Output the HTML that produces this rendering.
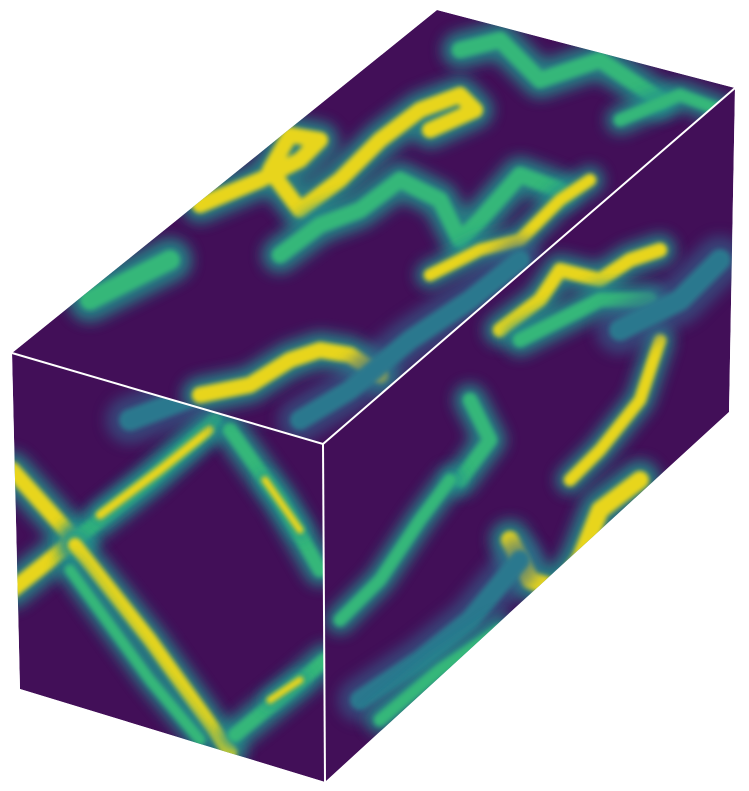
<!DOCTYPE html>
<html><head><meta charset="utf-8"><style>
html,body{margin:0;padding:0;background:#fff;width:749px;height:791px;overflow:hidden}
svg{display:block}
</style></head><body>
<svg id="chart" width="749" height="791" viewBox="0 0 749 791" xmlns="http://www.w3.org/2000/svg">
<defs>
<filter id="b1" filterUnits="userSpaceOnUse" x="0" y="0" width="749" height="791"><feGaussianBlur stdDeviation="7"/></filter>
<filter id="b2" filterUnits="userSpaceOnUse" x="0" y="0" width="749" height="791"><feGaussianBlur stdDeviation="2.5"/></filter>
<clipPath id="cf"><polygon points="12,353 323,444 325,782 20,689"/></clipPath>
<clipPath id="ct"><polygon points="12,353 437,10 735,88 323,444"/></clipPath>
<clipPath id="cr"><polygon points="323,444 735,88 729,412 325,782"/></clipPath>
</defs>
<g id="faces"></g>
<g stroke="#fff" stroke-width="2" fill="none">
<polyline points="12,353 323,444 735,88"/>
<line x1="323" y1="444" x2="325" y2="782"/>
</g>
</svg>
<script>
const facePolys = {
  front: "12,353 323,444 325,782 20,689",
  top: "12,353 437,10 735,88 323,444",
  right: "323,444 735,88 729,412 325,782"
};
const frontStreaks = [
  [2,18,[[12,470],[75,540],[12,590]]],
  [1,16,[[75,540],[150,480],[215,420]]],
  [2,10,[[100,515],[160,470],[210,430]]],
  [2,16,[[75,545],[150,640],[230,752]]],
  [1,12,[[70,570],[150,680],[200,740]]],
  [1,16,[[230,430],[280,500],[320,570]]],
  [2,8,[[265,480],[300,530]]],
  [1,16,[[235,735],[290,690],[325,660]]],
  [2,8,[[270,700],[300,680]]],
  [0,24,[[130,420],[210,390],[300,400]]]
];
const topStreaks = [
  [2,18,[[200,205],[260,180],[300,160],[320,140],[290,135],[270,170],[300,210],[340,180],[380,140],[420,110],[460,95],[475,110],[430,130]]],
  [1,18,[[280,255],[320,225],[360,210],[400,180],[440,200],[460,240],[480,220],[520,175],[560,190]]],
  [2,14,[[430,275],[480,250],[520,240],[560,200],[590,180]]],
  [2,18,[[200,395],[250,385],[290,360],[320,350],[350,355],[380,375]]],
  [1,22,[[90,300],[130,280],[170,260]]],
  [1,18,[[460,50],[500,40],[540,80],[600,60],[660,100]]],
  [0,22,[[300,420],[350,390],[410,340],[470,300],[520,260]]],
  [1,14,[[620,120],[680,95],[720,110]]]
];
const rightStreaks = [
  [2,16,[[500,330],[540,300],[560,270],[600,280],[630,260],[660,250]]],
  [1,16,[[520,340],[560,320],[600,300],[650,300]]],
  [2,14,[[660,340],[640,400],[600,450],[570,480]]],
  [2,20,[[510,540],[530,580],[560,590],[580,560],[600,510],[640,480]]],
  [1,16,[[460,480],[490,440],[470,400]]],
  [1,14,[[340,620],[380,580],[420,520],[450,480]]],
  [0,22,[[360,700],[420,660],[470,620],[520,560]]],
  [1,14,[[380,720],[440,670],[500,630]]],
  [0,24,[[620,330],[680,300],[720,260]]]
];
const colors = ["#2a788e","#35b779","#e8d51a"];
const NS = "http://www.w3.org/2000/svg";
const faces = document.getElementById('faces');
function addFace(name, streaks, clip){
  const g = document.createElementNS(NS,'g');
  
  
  g.setAttribute('clip-path','url(#'+clip+')');
  const p = document.createElementNS(NS,'polygon');
  
  
  p.setAttribute('points', facePolys[name]);
  p.setAttribute('fill', '#420f58');
  g.appendChild(p);
  streaks.forEach(function(s){
    const d = 'M' + s[2].map(function(q){return q[0]+','+q[1];}).join(' L');
    const halo = document.createElementNS(NS,'path');
    
    
    halo.setAttribute('d', d);
    halo.setAttribute('fill','none');
    halo.setAttribute('stroke', s[0]===0 ? '#31688e' : '#21918c');
    halo.setAttribute('stroke-width', s[1]*2);
    halo.setAttribute('stroke-linecap','round');
    halo.setAttribute('stroke-linejoin','round');
    halo.setAttribute('opacity', s[0]===0 ? 0.6 : 0.85);
    halo.setAttribute('filter','url(#b1)');
    g.appendChild(halo);
    const core = document.createElementNS(NS,'path');
    
    
    core.setAttribute('d', d);
    core.setAttribute('fill','none');
    core.setAttribute('stroke', colors[s[0]]);
    core.setAttribute('stroke-width', s[1]*0.9);
    core.setAttribute('stroke-linecap','round');
    core.setAttribute('stroke-linejoin','round');
    core.setAttribute('filter','url(#b2)');
    g.appendChild(core);
  });
  faces.appendChild(g);
}
addFace('top', topStreaks, 'ct');
addFace('front', frontStreaks, 'cf');
addFace('right', rightStreaks, 'cr');
</script>
</body></html>
